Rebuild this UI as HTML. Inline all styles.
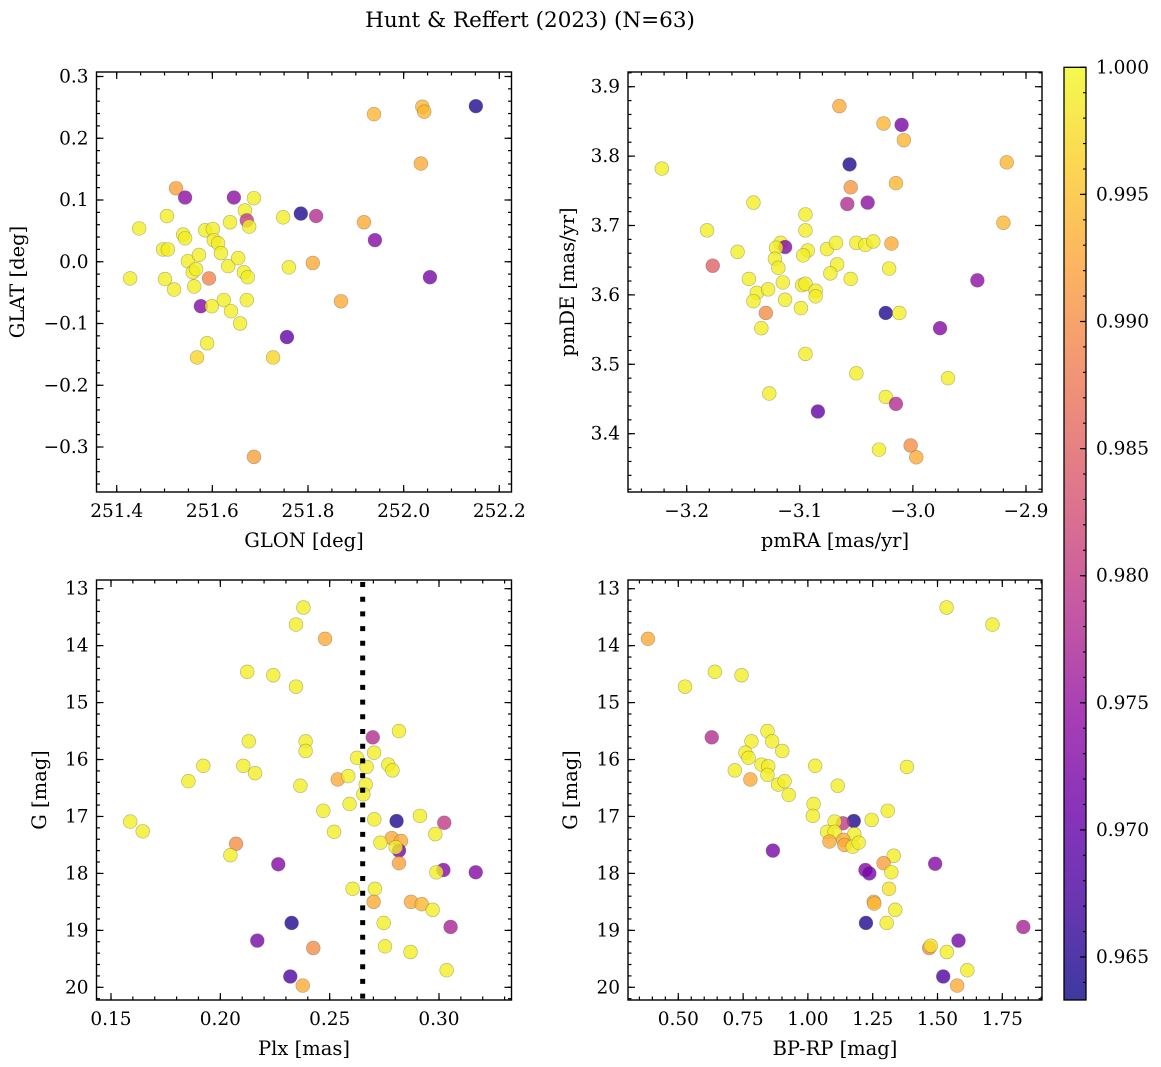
<!DOCTYPE html>
<html><head><meta charset="utf-8">
<style>
html,body{margin:0;padding:0;background:#fff;}
svg{display:block;font-family:"DejaVu Serif","Liberation Serif",serif;}
</style></head>
<body>
<svg id="fig" width="1161" height="1067" viewBox="0 0 1161 1067" xmlns="http://www.w3.org/2000/svg">
<text x="530" y="27" font-size="21.5" text-anchor="middle">Hunt &amp; Reffert (2023) (N=63)</text>
<defs>
<linearGradient id="plasma" x1="0" y1="1" x2="0" y2="0">
<stop offset="0" stop-color="#0d0887"/><stop offset="0.1" stop-color="#41049d"/><stop offset="0.2" stop-color="#6a00a8"/><stop offset="0.3" stop-color="#8f0da4"/><stop offset="0.4" stop-color="#b12a90"/><stop offset="0.5" stop-color="#cc4778"/><stop offset="0.6" stop-color="#e16462"/><stop offset="0.7" stop-color="#f2844b"/><stop offset="0.8" stop-color="#fca636"/><stop offset="0.9" stop-color="#fcce25"/><stop offset="1" stop-color="#f0f921"/>
</linearGradient>
</defs>
<g id="layer"></g>
</svg>
<script>
// ---- Panel 1: GLON / GLAT ----
const p1_glon=[251.428,251.447,251.505,251.497,251.507,251.501,251.520,251.524,251.543,251.539,251.543,251.549,251.559,251.566,251.562,251.572,251.576,251.568,251.585,251.593,251.589,251.601,251.603,251.599,251.612,251.618,251.624,251.633,251.637,251.645,251.639,251.654,251.658,251.668,251.666,251.672,251.674,251.672,251.677,251.687,251.727,251.748,251.760,251.756,251.785,251.817,251.810,251.869,251.917,251.938,251.940,252.036,252.039,252.043,252.055,252.151,251.687];
const p1_glat=[-0.027,0.054,0.074,0.020,0.020,-0.028,-0.045,0.119,0.104,0.044,0.038,0.001,-0.017,-0.012,-0.040,0.011,-0.072,-0.155,0.051,-0.027,-0.132,0.053,0.035,-0.072,0.030,0.014,-0.062,-0.007,0.064,0.104,-0.080,0.006,-0.100,0.083,-0.017,0.067,-0.025,-0.062,0.057,0.103,-0.155,0.072,-0.009,-0.122,0.078,0.074,-0.002,-0.064,0.064,0.239,0.035,0.159,0.251,0.243,-0.025,0.252,-0.316];
const p1_prob=[0.999,0.999,0.999,0.999,0.999,0.999,0.999,0.992,0.974,0.999,0.999,0.999,0.999,0.999,0.999,0.999,0.973,0.997,0.999,0.989,0.999,0.999,0.999,0.999,0.999,0.999,0.999,0.999,0.999,0.974,0.999,0.999,0.999,0.999,0.999,0.980,0.999,0.999,0.999,0.999,0.997,0.999,0.999,0.970,0.9645,0.978,0.993,0.993,0.993,0.994,0.973,0.993,0.994,0.994,0.972,0.9645,0.992];
// ---- Panel 2: pmRA / pmDE ----
const p2_pmra=[-3.222,-3.065,-3.026,-3.010,-3.008,-3.056,-3.055,-3.015,-2.917,-3.058,-3.040,-3.141,-3.095,-2.920,-3.182,-3.095,-3.155,-3.117,-3.113,-3.121,-3.093,-3.097,-3.076,-3.068,-3.050,-3.042,-3.035,-3.019,-3.177,-3.122,-3.119,-3.067,-3.073,-3.021,-3.145,-3.138,-3.141,-3.128,-3.115,-3.113,-3.098,-3.095,-3.086,-3.086,-3.099,-3.055,-3.130,-3.134,-3.024,-3.012,-2.943,-2.976,-3.095,-3.050,-2.969,-3.127,-3.024,-3.015,-3.084,-3.030,-3.002,-2.997];
const p2_pmde=[3.782,3.872,3.847,3.845,3.823,3.788,3.755,3.761,3.791,3.731,3.733,3.733,3.716,3.704,3.693,3.693,3.662,3.675,3.669,3.668,3.664,3.657,3.666,3.675,3.675,3.672,3.677,3.674,3.642,3.652,3.639,3.644,3.631,3.638,3.623,3.603,3.591,3.608,3.618,3.593,3.614,3.616,3.606,3.598,3.581,3.623,3.574,3.552,3.574,3.574,3.621,3.552,3.515,3.487,3.480,3.458,3.453,3.443,3.432,3.377,3.383,3.366];
const p2_prob=[0.999,0.993,0.994,0.972,0.994,0.9645,0.991,0.994,0.994,0.978,0.974,0.999,0.999,0.994,0.999,0.999,0.999,0.999,0.973,0.999,0.999,0.999,0.999,0.999,0.999,0.999,0.999,0.993,0.985,0.999,0.999,0.999,0.999,0.999,0.999,0.999,0.999,0.999,0.999,0.999,0.999,0.999,0.999,0.999,0.999,0.999,0.990,0.999,0.9645,0.999,0.974,0.973,0.999,0.999,0.999,0.999,0.999,0.978,0.970,0.999,0.990,0.993];
// ---- Panel 3: Plx / G ----
const p3_plx=[0.2380,0.2346,0.2479,0.2123,0.2242,0.2346,0.2817,0.2697,0.2130,0.2390,0.2390,0.2703,0.2625,0.1922,0.2105,0.2159,0.2669,0.2768,0.2787,0.1854,0.2537,0.2585,0.2665,0.2366,0.2654,0.2591,0.2471,0.2913,0.2704,0.2806,0.3024,0.1588,0.1645,0.2520,0.2983,0.2784,0.2826,0.2732,0.2817,0.2802,0.2072,0.2046,0.2817,0.2265,0.3020,0.2988,0.3168,0.2605,0.2707,0.2701,0.2872,0.2921,0.2971,0.2326,0.2747,0.3053,0.2169,0.2425,0.2753,0.2870,0.3035,0.2320,0.2377];
const p3_g=[13.33,13.63,13.88,14.46,14.52,14.72,15.50,15.61,15.68,15.68,15.85,15.88,15.97,16.11,16.11,16.24,16.13,16.09,16.19,16.38,16.35,16.29,16.44,16.46,16.61,16.78,16.90,16.99,17.05,17.08,17.11,17.09,17.26,17.27,17.31,17.38,17.43,17.46,17.60,17.54,17.48,17.68,17.82,17.84,17.94,17.98,17.98,18.27,18.27,18.50,18.50,18.54,18.64,18.87,18.87,18.94,19.18,19.31,19.28,19.38,19.70,19.81,19.97];
const p3_prob=[0.999,0.999,0.993,0.999,0.999,0.999,0.999,0.978,0.999,0.999,0.999,0.999,0.999,0.999,0.999,0.999,0.999,0.999,0.999,0.999,0.993,0.999,0.999,0.999,0.999,0.999,0.999,0.999,0.999,0.9645,0.980,0.999,0.999,0.999,0.999,0.993,0.993,0.999,0.972,0.999,0.990,0.999,0.992,0.973,0.973,0.999,0.973,0.999,0.999,0.993,0.993,0.994,0.999,0.9645,0.999,0.977,0.972,0.990,0.999,0.999,0.999,0.968,0.993];
// ---- Panel 4: BP-RP / G ----
const p4_bprp=[0.383,1.535,1.712,0.526,0.641,0.744,0.629,0.844,0.782,0.862,0.901,0.759,0.771,0.821,0.847,0.844,0.718,1.028,1.382,0.778,0.885,0.910,0.926,1.115,1.022,1.308,1.019,1.177,1.135,1.103,1.246,1.074,1.103,1.179,1.083,1.137,1.141,1.173,1.196,0.865,1.331,1.292,1.491,1.222,1.237,1.322,1.313,1.254,1.256,1.337,1.224,1.304,1.831,1.581,1.468,1.474,1.536,1.615,1.522,1.576];
const p4_g=[13.88,13.33,13.63,14.72,14.46,14.52,15.61,15.50,15.68,15.68,15.85,15.88,15.97,16.09,16.12,16.27,16.19,16.11,16.13,16.35,16.44,16.38,16.62,16.46,16.78,16.90,16.99,17.08,17.12,17.09,17.06,17.27,17.27,17.31,17.44,17.41,17.50,17.53,17.46,17.60,17.69,17.82,17.83,17.94,18.00,17.98,18.27,18.50,18.53,18.64,18.87,18.87,18.94,19.18,19.31,19.27,19.38,19.70,19.81,19.97];
const p4_prob=[0.993,0.999,0.999,0.999,0.999,0.999,0.978,0.999,0.999,0.999,0.999,0.999,0.999,0.999,0.999,0.999,0.999,0.999,0.999,0.993,0.999,0.999,0.999,0.999,0.999,0.999,0.999,0.9645,0.980,0.999,0.999,0.999,0.999,0.999,0.993,0.993,0.993,0.999,0.999,0.972,0.999,0.992,0.973,0.973,0.972,0.999,0.998,0.993,0.994,0.999,0.9645,0.999,0.977,0.972,0.990,0.998,0.999,0.999,0.968,0.993];
// ---- tick labels ----
const p1_xticks=[251.4,251.6,251.8,252.0,252.2];
const p1_yticks=[-0.3,-0.2,-0.1,0.0,0.1,0.2,0.3];
const p2_xticks=[-3.2,-3.1,-3.0,-2.9];
const p2_yticks=[3.4,3.5,3.6,3.7,3.8,3.9];
const p3_xticks=[0.15,0.20,0.25,0.30];
const g_yticks=[13,14,15,16,17,18,19,20];
const p4_xticks=[0.50,0.75,1.00,1.25,1.50,1.75];
const cb_ticks=[0.965,0.970,0.975,0.980,0.985,0.990,0.995,1.000];
const plx_cut=0.2651;
const VMIN=0.9633, VMAX=1.0;

const NS="http://www.w3.org/2000/svg";
const layer=document.getElementById('layer');
function mk(tag,attrs,parent){const e=document.createElementNS(NS,tag);for(const k in attrs)e.setAttribute(k,attrs[k]);(parent||layer).appendChild(e);return e;}
function lin(d0,p0,d1,p1){const f=v=>p0+(v-d0)*(p1-p0)/(d1-d0);f.inv=p=>d0+(p-p0)*(d1-d0)/(p1-p0);return f;}
const stops=[[13,8,135],[65,4,157],[106,0,168],[143,13,164],[177,42,144],[204,71,120],[225,100,98],[242,132,75],[252,166,54],[252,206,37],[240,249,33]];
function plasma(v){let t=(v-VMIN)/(VMAX-VMIN);t=Math.max(0,Math.min(1,t))*10;const i=Math.min(9,Math.floor(t)),f=t-i;const a=stops[i],b=stops[i+1];return 'rgb('+a.map((c,k)=>Math.round(c+(b[k]-c)*f)).join(',')+')';}
function fmt(v,d){return (v<0?'\u2212':'')+Math.abs(v).toFixed(d);}
const TFS=18.5, AFS=19.5;

function panel(name,box,sx,sy,xt,yt,xd,yd,xminor,yminor,xs,ys,ps,xlab,ylab,ylabX){
  const g=mk('g',{});
  
  
  const [L,T,R,B]=box;
  const pts=mk('g',{},g);
  
  
  for(let i=0;i<xs.length;i++){
    const c=mk('circle',{cx:sx(xs[i]),cy:sy(ys[i]),r:6.9,fill:plasma(ps[i]),'fill-opacity':0.8,stroke:'#555','stroke-opacity':0.45,'stroke-width':0.6},pts);
    
    
  }
  const tk=mk('g',{stroke:'#000','stroke-width':1.2},g);
  
  
  const xlo=sx.inv(L),xhi=sx.inv(R);const ylo=Math.min(sy.inv(B),sy.inv(T)),yhi=Math.max(sy.inv(B),sy.inv(T));
  for(let k=Math.ceil(Math.min(xlo,xhi)/xminor-1e-6);k*xminor<=Math.max(xlo,xhi)+1e-9;k++){const x=sx(k*xminor);mk('line',{x1:x,x2:x,y1:B,y2:B-3.5},tk);mk('line',{x1:x,x2:x,y1:T,y2:T+3.5},tk);}
  for(let k=Math.ceil(ylo/yminor-1e-6);k*yminor<=yhi+1e-9;k++){const y=sy(k*yminor);mk('line',{x1:L,x2:L+3.5,y1:y,y2:y},tk);mk('line',{x1:R,x2:R-3.5,y1:y,y2:y},tk);}
  xt.forEach(v=>{const x=sx(v);mk('line',{x1:x,x2:x,y1:B,y2:B-7},tk);mk('line',{x1:x,x2:x,y1:T,y2:T+7},tk);
    const t=mk('text',{x:x,y:B+25,'font-size':TFS,'text-anchor':'middle'},g);t.textContent=fmt(v,xd);
    });
  yt.forEach(v=>{const y=sy(v);mk('line',{x1:L,x2:L+7,y1:y,y2:y},tk);mk('line',{x1:R,x2:R-7,y1:y,y2:y},tk);
    const t=mk('text',{x:L-8,y:y+6,'font-size':TFS,'text-anchor':'end'},g);t.textContent=fmt(v,yd);
    });
  const fr=mk('rect',{x:L,y:T,width:R-L,height:B-T,fill:'none',stroke:'#000','stroke-width':1.4},g);
  
  const xl=mk('text',{x:(L+R)/2,y:B+55,'font-size':AFS,'text-anchor':'middle'},g);xl.textContent=xlab;
  
  const cy=(T+B)/2;
  const yl=mk('text',{x:ylabX,y:cy,'font-size':AFS,'text-anchor':'middle',transform:'rotate(-90 '+ylabX+' '+cy+')'},g);yl.textContent=ylab;
  
  return g;
}

panel('glon-glat-panel',[96.5,72,511.5,492],lin(251.4,116.7,252.2,499.3),lin(0.3,76.5,-0.3,447),p1_xticks,p1_yticks,1,1,0.05,0.02,p1_glon,p1_glat,p1_prob,'GLON [deg]','GLAT [deg]',24);
panel('pm-panel',[628,72,1042,492],lin(-3.2,686.7,-2.9,1026),lin(3.9,86.7,3.4,433.7),p2_xticks,p2_yticks,1,1,0.02,0.02,p2_pmra,p2_pmde,p2_prob,'pmRA [mas/yr]','pmDE [mas/yr]',574);
const g3=panel('plx-g-panel',[96.5,580,511.5,1000],lin(0.15,111,0.30,439),lin(13,588.7,20,987.3),p3_xticks,g_yticks,2,0,0.01,0.2,p3_plx,p3_g,p3_prob,'Plx [mas]','G [mag]',46);
panel('color-mag-panel',[628,580,1042,1000],lin(0.5,678.3,1.75,1002.3),lin(13,588.7,20,987.3),p4_xticks,g_yticks,2,0,0.05,0.2,p4_bprp,p4_g,p4_prob,'BP-RP [mag]','G [mag]',577);
const sx3=lin(0.15,111,0.30,439);
const cut=mk('line',{x1:sx3(plx_cut),x2:sx3(plx_cut),y1:582,y2:1000,stroke:'#000','stroke-width':5,'stroke-dasharray':'5 9.7'},g3);



const cb=mk('g',{});


const cbs=lin(1.0,67.3,0.995,194.4);
const bar=mk('rect',{x:1064,y:67.3,width:22,height:1000-67.3,fill:'url(#plasma)','fill-opacity':0.8},cb);


mk('rect',{x:1064,y:67.3,width:22,height:1000-67.3,fill:'none',stroke:'#000','stroke-width':1.3},cb);
for(let k=964;k<=1000;k++){const y=cbs(k/1000);mk('line',{x1:1086,x2:1083,y1:y,y2:y,stroke:'#000','stroke-width':1.1},cb);}
cb_ticks.forEach(v=>{const y=cbs(v);mk('line',{x1:1086,x2:1080,y1:y,y2:y,stroke:'#000','stroke-width':1.2},cb);
  const t=mk('text',{x:1096,y:y+6,'font-size':TFS},cb);t.textContent=v.toFixed(3);
  });
</script>
</body></html>
